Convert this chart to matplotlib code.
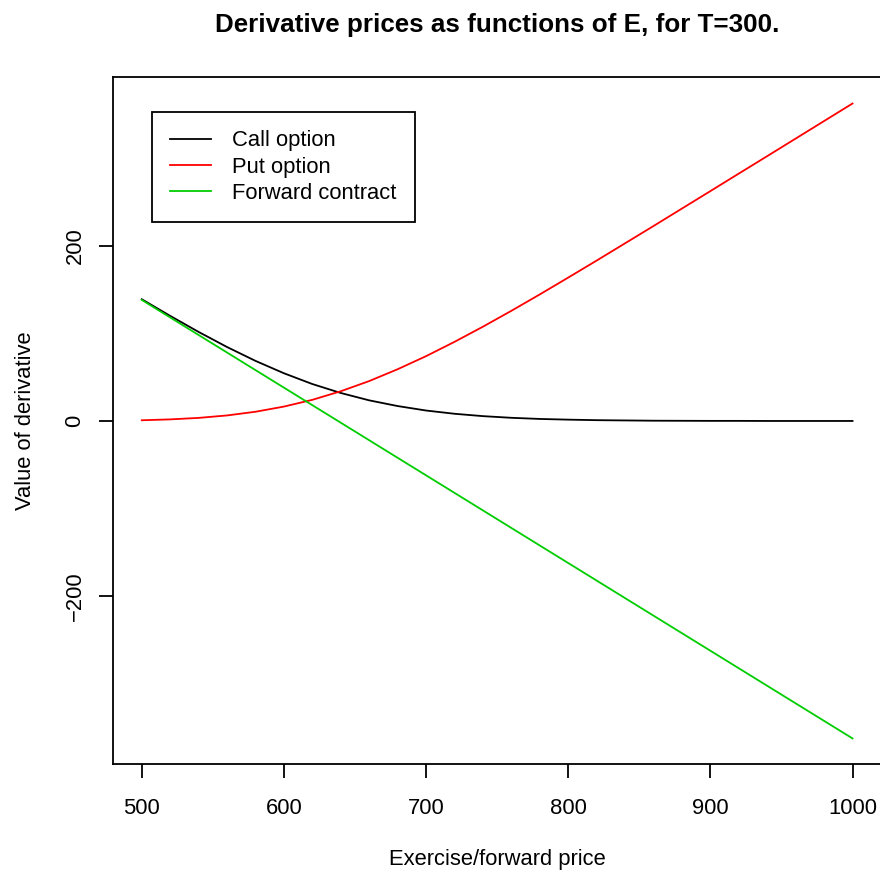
"""Derivative prices as functions of the exercise price E, T=300."""

import matplotlib
matplotlib.use("Agg")
import matplotlib.pyplot as plt

# ---------- data ----------------------------------------------------------
exercise = [500, 520, 540, 560, 580, 600, 620, 640, 660, 680, 700, 720, 740,
            760, 780, 800, 820, 840, 860, 880, 900, 920, 940, 960, 980, 1000]
call = [138.8, 119.8, 101.5, 84.3, 68.5, 54.4, 42.1, 31.9, 23.5, 17.0, 11.9,
        8.2, 5.5, 3.6, 2.3, 1.5, 0.9, 0.6, 0.3, 0.2, 0.1, 0.1, 0.0, 0.0, 0.0, 0.0]
put = [0.8, 1.8, 3.5, 6.3, 10.5, 16.4, 24.1, 33.9, 45.5, 59.0, 73.9, 90.2,
       107.5, 125.6, 144.3, 163.5, 182.9, 202.6, 222.3, 242.2, 262.1, 282.1,
       302.0, 322.0, 342.0, 362.0]
forward = [138, 118, 98, 78, 58, 38, 18, -2, -22, -42, -62, -82, -102, -122,
           -142, -162, -182, -202, -222, -242, -262, -282, -302, -322, -342, -362]

labels = ["Call option", "Put option", "Forward contract"]
colors = ["#000000", "#FF0000", "#00CD00"]
xticks = [500, 600, 700, 800, 900, 1000]
yticks = [-200, 0, 200]

# ---------- figure ---------------------------------------------------------
plt.rcParams["font.family"] = ["Liberation Sans", "DejaVu Sans"]
FS = 15.8      # ~22 px at dpi 100
LW = 1.3

fig = plt.figure(figsize=(8.8, 8.73), dpi=100)
ax = fig.add_axes([0.1288, 0.1245, 1.0011 - 0.1288, 0.9121 - 0.1245])

for ys, lab, col in zip([call, put, forward], labels, colors):
    ax.plot(exercise, ys, color=col, lw=LW, label=lab)

ax.set_xlim(480, 1020)
ax.set_ylim(-391.5, 392.5)
ax.set_xticks(xticks)
ax.set_yticks(yticks)
ax.set_yticklabels([str(v).replace("-", "\u2212") for v in yticks],
                   rotation=90, va="center")
ax.tick_params(direction="out", length=10, width=LW, labelsize=FS, color="black")
ax.tick_params(axis="x", pad=14.3)
ax.tick_params(axis="y", pad=10)
for sp in ax.spines.values():
    sp.set_linewidth(LW)

ax.set_xlabel("Exercise/forward price", fontsize=FS)
ax.xaxis.set_label_coords(0.5, -0.1228)
ax.set_ylabel("Value of derivative", fontsize=FS)
ax.yaxis.set_label_coords(-0.1010, 0.5)
ax.set_title("Derivative prices as functions of E, for T=300.",
             fontsize=18.7, fontweight="bold", y=1.0646, pad=0, va="baseline")

leg = ax.legend(loc="upper left", bbox_to_anchor=(0.050, 0.949), borderaxespad=0,
                fontsize=FS, handlelength=1.85, handletextpad=0.95,
                labelspacing=0.23, borderpad=0.85, fancybox=False, framealpha=1,
                edgecolor="black")
leg.get_frame().set_linewidth(LW)

fig.savefig("out.png", dpi=100)
